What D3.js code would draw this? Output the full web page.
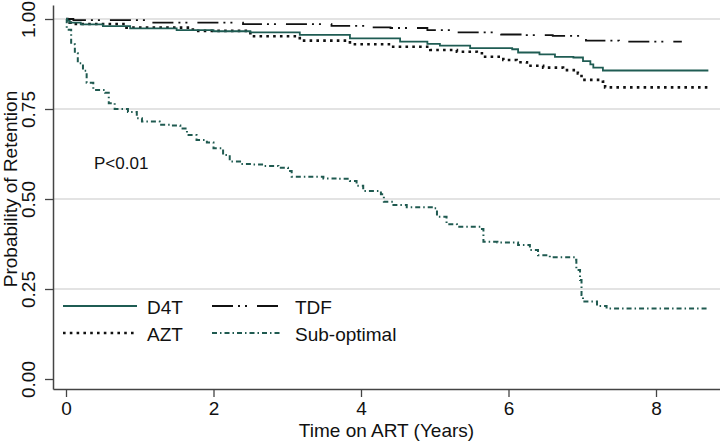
<!DOCTYPE html>
<html><head><meta charset="utf-8">
<script src="https://cdn.jsdelivr.net/npm/d3@7"></script>
<style>body{margin:0;background:#fff}svg{display:block}text{font-family:"Liberation Sans",Arial,sans-serif;fill:#111}</style>
</head><body><svg id="c" width="720" height="442"></svg>
<script>
// ---- data (Kaplan-Meier step curves) ----
const d4tTime = [0,0.02,0.05,0.2,0.5,0.87,1.5,2.0,2.5,3.17,3.85,4.53,4.9,5.07,5.48,6.05,6.13,6.42,6.63,6.88,7.01,7.11,7.15,7.28,8.71];
const d4tSurv = [1.0,0.995,0.99,0.985,0.98,0.974,0.969,0.966,0.963,0.956,0.946,0.937,0.931,0.926,0.919,0.916,0.907,0.902,0.895,0.893,0.883,0.874,0.865,0.857,0.857];
const aztTime = [0,0.05,0.1,0.82,1.72,2.5,3.17,3.85,4.4,4.94,5.3,5.57,5.66,5.93,6.11,6.25,6.47,6.74,6.94,6.99,7.28,7.31,8.71];
const aztSurv = [1.0,0.99,0.986,0.976,0.967,0.952,0.94,0.93,0.923,0.914,0.909,0.905,0.895,0.886,0.88,0.87,0.865,0.858,0.849,0.831,0.826,0.81,0.81];
const tdfTime = [0,0.1,1.1,2.4,3.6,4.1,4.4,4.9,5.3,5.9,6.2,6.6,7.05,7.5,8.35];
const tdfSurv = [1.0,0.997,0.99,0.986,0.981,0.977,0.975,0.969,0.963,0.957,0.955,0.953,0.94,0.937,0.937];
const subTime = [0,0.01,0.07,0.12,0.16,0.23,0.28,0.37,0.53,0.58,0.66,0.84,0.96,1.03,1.27,1.41,1.55,1.64,1.77,1.91,2.0,2.13,2.22,2.36,2.54,2.68,2.88,3.01,3.06,3.49,3.67,3.85,3.94,4.03,4.27,4.31,4.44,4.62,4.96,5.03,5.16,5.3,5.64,5.66,5.85,6.13,6.29,6.4,6.56,6.9,6.92,6.97,6.99,7.01,7.2,7.33,8.69];
const subSurv = [1.0,0.97,0.93,0.905,0.877,0.856,0.823,0.803,0.795,0.766,0.75,0.742,0.724,0.715,0.706,0.704,0.696,0.678,0.664,0.657,0.641,0.622,0.604,0.597,0.596,0.592,0.587,0.578,0.562,0.557,0.556,0.55,0.537,0.522,0.513,0.4925,0.483,0.477,0.474,0.451,0.43,0.423,0.417,0.381,0.379,0.372,0.358,0.344,0.338,0.331,0.303,0.275,0.233,0.215,0.203,0.196,0.196];

const seriesNames = ["D4T","AZT","TDF","Sub-optimal"];
const xTicks = [0,2,4,6,8];
const yTicks = [0,0.25,0.5,0.75,1];
const xTitle = "Time on ART (Years)";
const yTitle = "Probability of Retention";
const pText = "P<0.01";

// ---- layout ----
const svg = d3.select("#c");
const xs = d3.scaleLinear().domain([0,8]).range([66,656]);
const ys = d3.scaleLinear().domain([0,1]).range([379,19]);
const x = d3.scaleLinear().domain([xs.invert(53), xs.invert(720)]).range([53,720]);
const y = d3.scaleLinear().domain([ys.invert(389), ys.invert(5)]).range([389,5]);

// gridlines
svg.append("g").selectAll("line").data(yTicks.filter(v=>v>0)).join("line")
  .attr("x1",53).attr("x2",720).attr("y1",d=>y(d)).attr("y2",d=>y(d))
  .attr("stroke","#dadada").attr("stroke-width",1.5);

// axes
const gy = svg.append("g").attr("transform","translate(53,0)")
  .call(d3.axisLeft(y).tickValues(yTicks).tickFormat(d3.format(".2f")).tickSize(8).tickSizeOuter(0));
const gx = svg.append("g").attr("transform","translate(0,389)")
  .call(d3.axisBottom(x).tickValues(xTicks).tickFormat(d3.format("d")).tickSize(8).tickSizeOuter(0));
[gy,gx].forEach(g=>{
  g.select(".domain").attr("stroke","#444").attr("stroke-width",1.5);
  g.selectAll(".tick line").attr("stroke","#444").attr("stroke-width",1.3);
  g.selectAll("text").style("font-size","19px").attr("fill","#111");
});
gy.selectAll(".tick text").attr("transform","rotate(-90)").attr("x",0).attr("y",-18).attr("dy",0).attr("text-anchor","middle");
gx.selectAll(".tick text").attr("y",13).attr("dy","0.71em");

// titles
svg.append("text").attr("x",386.5).attr("y",437).attr("text-anchor","middle").style("font-size","19px").text(xTitle);
svg.append("text").attr("transform","translate(17,189) rotate(-90)").attr("text-anchor","middle").style("font-size","19px").text(yTitle);
svg.append("text").attr("x",94).attr("y",169).style("font-size","17px").text(pText);

// curves
const line = d3.line().x(d=>x(d[0])).y(d=>y(d[1])).curve(d3.curveStepAfter);
const zip = (t,s)=>t.map((v,i)=>[v,s[i]]);
const styles = {
  "D4T": {stroke:"#1f5c53", w:1.8, dash:null},
  "AZT": {stroke:"#111", w:2.6, dash:"2.6,4.2"},
  "TDF": {stroke:"#111", w:1.8, dash:"21,5,2,5,2,10"},
  "Sub-optimal": {stroke:"#1f5a50", w:2, dash:"5,3,1.5,3"}
};
const data = {
  "D4T": zip(d4tTime,d4tSurv),
  "AZT": zip(aztTime,aztSurv),
  "TDF": zip(tdfTime,tdfSurv),
  "Sub-optimal": zip(subTime,subSurv)
};
["Sub-optimal","TDF","AZT","D4T"].forEach(n=>{
  const s = styles[n];
  svg.append("path").datum(data[n]).attr("d",line).attr("fill","none")
    .attr("stroke",s.stroke).attr("stroke-width",s.w).attr("stroke-dasharray",s.dash);
});

// legend
const leg = [
  {n:"D4T", lx:63, tx:147, yy:306},
  {n:"TDF", lx:212, tx:295, yy:306},
  {n:"AZT", lx:63, tx:147, yy:333},
  {n:"Sub-optimal", lx:212, tx:295, yy:333}
];
leg.forEach(l=>{
  const s = styles[l.n];
  svg.append("line").attr("x1",l.lx).attr("x2",l.lx+(l.n==="D4T"||l.n==="AZT"?74:68)).attr("y1",l.yy).attr("y2",l.yy)
    .attr("stroke",s.stroke).attr("stroke-width",s.w).attr("stroke-dasharray",s.dash);
  svg.append("text").attr("x",l.tx).attr("y",l.yy+8).style("font-size","19px").text(l.n);
});
</script></body></html>
